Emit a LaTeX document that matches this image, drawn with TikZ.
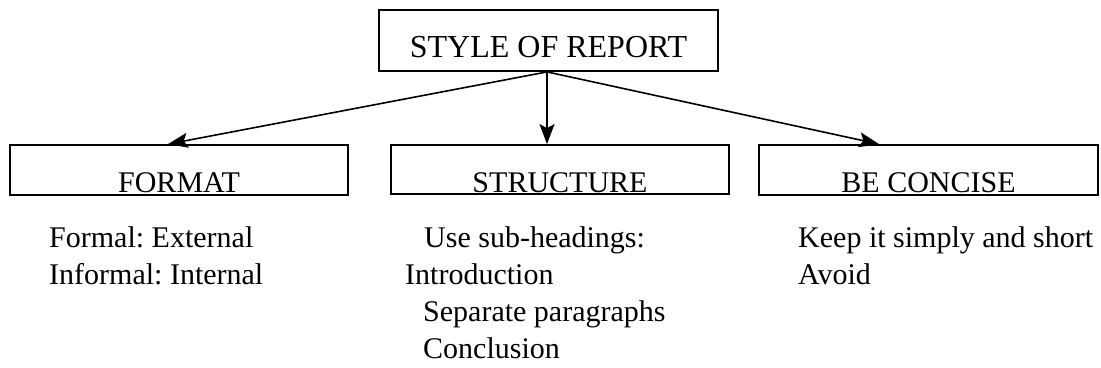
\documentclass[tikz,border=0pt]{standalone}
\usepackage{fontspec}
\setmainfont{Liberation Serif}
\usetikzlibrary{arrows.meta}
\frenchspacing
\begin{document}
\begin{tikzpicture}[x=1pt,y=-1pt,
  box/.style={draw,line width=1.8pt,inner sep=0pt,anchor=base,
    font=\fontsize{30}{36}\selectfont},
  item/.style={anchor=base west,inner sep=0pt,font=\fontsize{30}{36}\selectfont},
  arr/.style={line width=1.6pt,-{Stealth[length=20pt,width=15pt,inset=4pt]}}]
\useasboundingbox (0,0) rectangle (1101,367);
% heading box
\node[box,minimum width=339pt,text height=47pt,text depth=14pt,
  font=\fontsize{32}{38}\selectfont] (top) at (548.5,57) {STYLE OF REPORT};
% three category boxes
\node[box,minimum width=338pt,text height=47pt,text depth=3pt] (fmt) at (179,192) {FORMAT};
\node[box,minimum width=338pt,text height=47pt,text depth=2pt] (str) at (560,192) {STRUCTURE};
\node[box,minimum width=339pt,text height=47pt,text depth=3pt] (con) at (928.5,192) {BE CONCISE};
% connectors from the heading
\draw[arr] ([xshift=-1.5pt]top.south) -- ([xshift=-11pt]fmt.north);
\draw[arr] ([xshift=-1.5pt]top.south) -- ([xshift=-13pt]str.north);
\draw[arr] ([xshift=-1.5pt]top.south) -- ([xshift=-49.5pt]con.north);
% notes under each box
\node[item] (f1) at (49,247) {Formal: External};
\node[item] (f2) at (49,284) {Informal: Internal};
\node[item] (s1) at (424,247) {Use sub-headings:};
\node[item] (s2) at (405,284) {Introduction};
\node[item] (s3) at (423,321) {Separate paragraphs};
\node[item] (s4) at (423,358) {Conclusion};
\node[item] (c1) at (798,247) {Keep it simply and short};
\node[item] (c2) at (798,284) {Avoid};
\end{tikzpicture}
\end{document}
